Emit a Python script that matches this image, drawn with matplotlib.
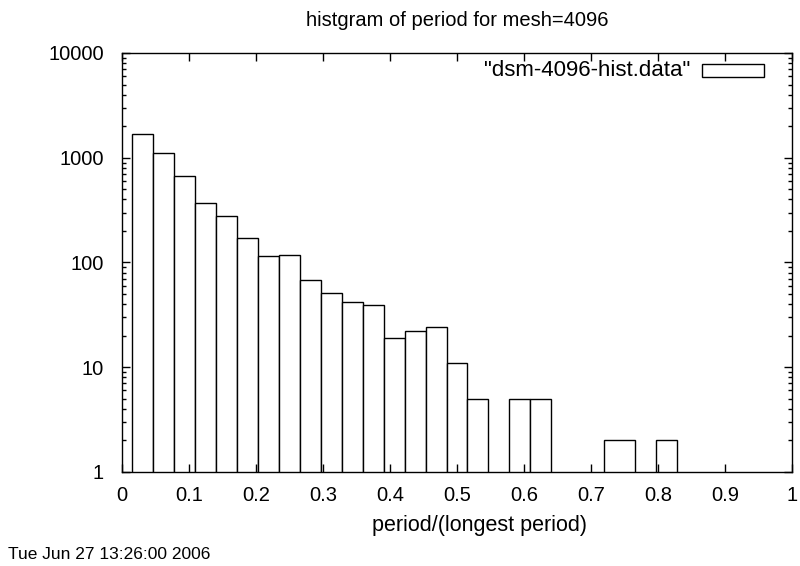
import matplotlib
matplotlib.use('Agg')
import matplotlib.pyplot as plt
from matplotlib.patches import Rectangle
from matplotlib.ticker import LogLocator, NullFormatter

plt.rcParams['font.family'] = ['Liberation Sans', 'DejaVu Sans']

# histogram of period / longest period (bin centers, bin widths, counts)
bin_center = [0.03125, 0.0625, 0.09375, 0.125, 0.15625, 0.1875, 0.21875,
              0.25, 0.28125, 0.3125, 0.34375, 0.375, 0.40625, 0.4375,
              0.46875, 0.5, 0.53125, 0.59375, 0.625, 0.7422, 0.8125]
bin_width = [0.03125] * 19 + [0.0467, 0.03125]
counts = [1700, 1110, 670, 370, 280, 170, 115, 118, 68, 51, 42, 39,
          19, 22, 24, 11, 5, 5, 5, 2, 2]

xticks = [0, 0.1, 0.2, 0.3, 0.4, 0.5, 0.6, 0.7, 0.8, 0.9, 1]
xticklabels = ['0', '0.1', '0.2', '0.3', '0.4', '0.5', '0.6', '0.7', '0.8', '0.9', '1']
yticks = [1, 10, 100, 1000, 10000]
yticklabels = ['1', '10', '100', '1000', '10000']

FS = 14.5

fig = plt.figure(figsize=(8, 5.66), dpi=100)
ax = fig.add_axes([0.1525, 0.1661, 0.8375, 0.7403])

ax.bar(bin_center, counts, width=bin_width, color='white',
       edgecolor='black', linewidth=1.0)

ax.set_yscale('log')
ax.set_xlim(0, 1)
ax.set_ylim(1, 10000)
ax.set_xticks(xticks)
ax.set_xticklabels(xticklabels)
ax.set_yticks(yticks)
ax.set_yticklabels(yticklabels)
ax.yaxis.set_minor_locator(LogLocator(base=10, subs=range(2, 10)))
ax.yaxis.set_minor_formatter(NullFormatter())

ax.tick_params(which='both', direction='in', top=True, right=True,
               labelsize=FS, width=1.0)
ax.tick_params(axis='x', which='major', length=6, pad=10)
ax.tick_params(axis='y', which='major', length=6, pad=13)
ax.tick_params(which='minor', length=3)
for s in ax.spines.values():
    s.set_linewidth(1.0)

fig.text(0.571, 1 - 26 / 566, 'histgram of period for mesh=4096', ha='center',
         va='baseline', fontsize=14.5)
fig.text(480 / 800, 1 - 531 / 566, 'period/(longest period)', ha='center',
         va='baseline', fontsize=15.5)
fig.text(8 / 800, 1 - 559 / 566, 'Tue Jun 27 13:26:00 2006', ha='left',
         va='baseline', fontsize=12.5)

# key
fig.text(690 / 800, 1 - 70 / 566, '"dsm-4096-hist.data"', ha='right',
         va='center', fontsize=16)
fig.patches.append(Rectangle((702 / 800, 1 - 76.7 / 566), 62 / 800, 12.4 / 566,
                             transform=fig.transFigure, facecolor='white',
                             edgecolor='black', linewidth=1.0))

fig.savefig('out.png', dpi=100)
